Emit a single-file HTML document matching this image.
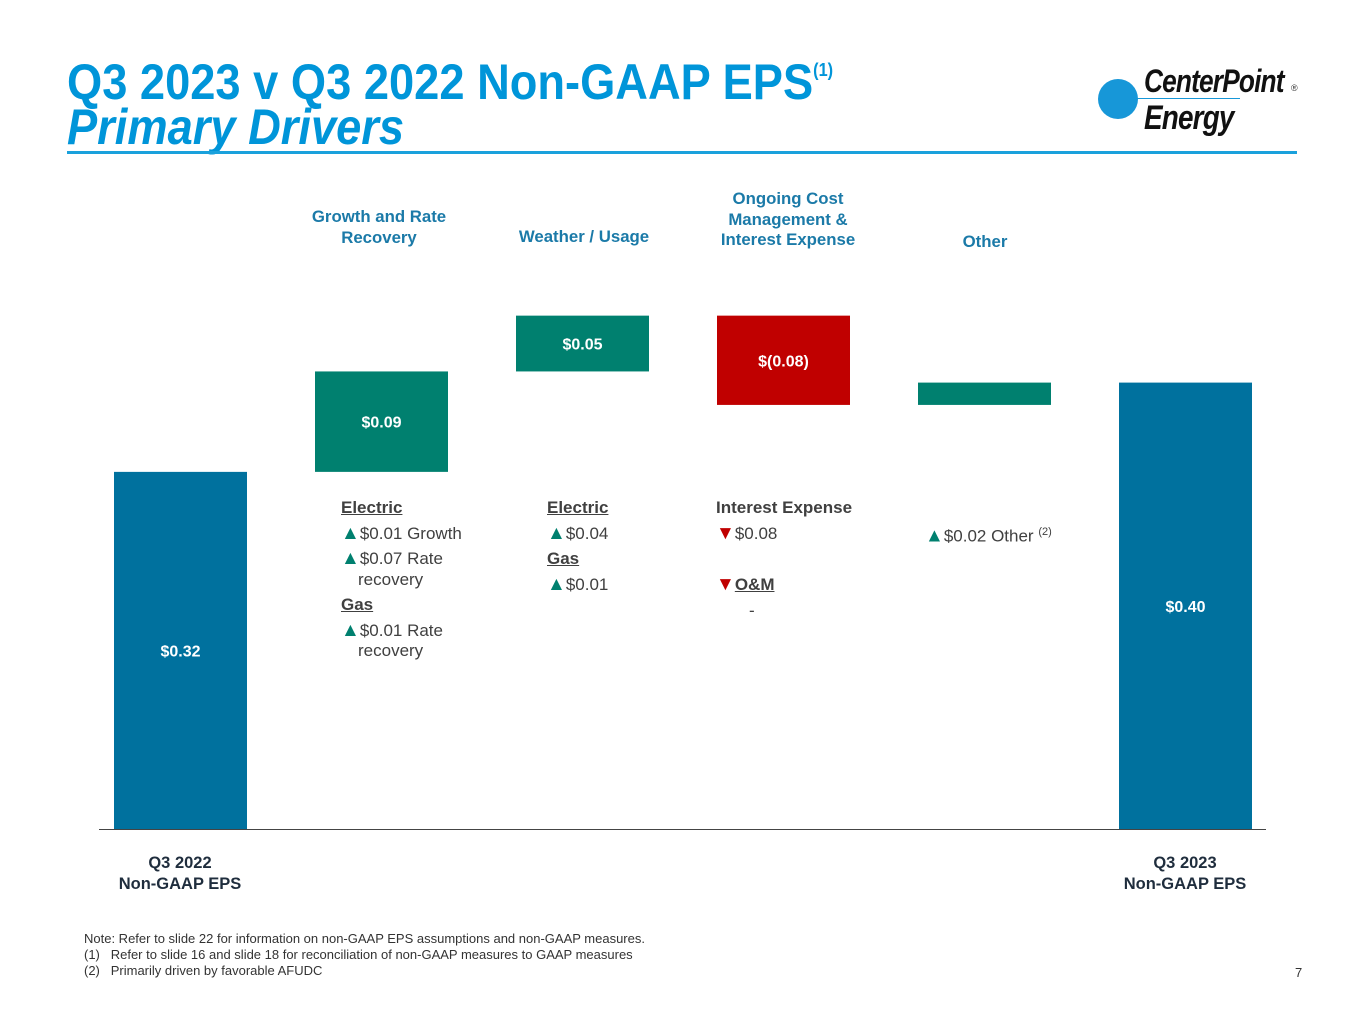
<!DOCTYPE html>
<html><head><meta charset="utf-8"><style>
body{margin:0;width:1365px;height:1024px;background:#fff;position:relative;overflow:hidden;font-family:"Liberation Sans",Arial,sans-serif;}
.abs{position:absolute;}
.t{color:#0095d9;font-weight:bold;font-size:50px;white-space:nowrap;transform:scaleX(0.905);transform-origin:left top;line-height:1;}
.hdr{color:#1b7aa8;font-weight:bold;font-size:16.8px;text-align:center;line-height:20.5px;width:220px;}
.ann{font-size:17px;color:#404040;line-height:20.5px;}
.ann u{font-weight:bold;}
.up{color:#00806f;font-size:19px;}
.dn{color:#c00000;font-size:19px;}
.xl{color:#1f2d3d;font-weight:bold;font-size:16.5px;text-align:center;line-height:21px;width:200px;}
</style></head><body>
<div class="abs t" style="left:67px;top:57px;">Q3 2023 v Q3 2022 Non-GAAP EPS<sup style="font-size:18px;vertical-align:top;position:relative;top:4px;">(1)</sup></div>
<div class="abs t" style="left:67px;top:102px;font-style:italic;">Primary Drivers</div>
<div class="abs" style="left:67px;top:151px;width:1230px;height:3px;background:#1aa1dc;"></div>
<div class="abs" style="left:1098px;top:65px;width:210px;height:75px;">
 <div class="abs" style="left:0;top:14px;width:40px;height:40px;border-radius:50%;background:#1797d8;"></div>
 <div class="abs" style="left:20px;top:33px;width:122px;height:1px;background:#1797d8;"></div>
 <div class="abs" style="left:46px;top:-2px;font-size:32px;font-weight:bold;font-style:italic;color:#111;transform:scaleX(0.82);transform-origin:left top;white-space:nowrap;letter-spacing:-1px;">CenterPoint</div>
 <div class="abs" style="left:46px;top:34px;font-size:34px;font-weight:bold;font-style:italic;color:#111;transform:scaleX(0.82);transform-origin:left top;white-space:nowrap;letter-spacing:-1px;">Energy</div>
 <div class="abs" style="left:193px;top:18px;font-size:9px;color:#333;">®</div>
</div>

<div class="abs hdr" style="left:269px;top:207px;">Growth and Rate<br>Recovery</div>
<div class="abs hdr" style="left:474px;top:227px;">Weather / Usage</div>
<div class="abs hdr" style="left:678px;top:189px;">Ongoing Cost<br>Management &amp;<br>Interest Expense</div>
<div class="abs hdr" style="left:875px;top:232px;">Other</div>

<svg class="abs" style="left:0;top:0;" width="1365" height="1024" id="chart"></svg>

<div class="abs ann" style="left:341px;top:498px;">
<div><u>Electric</u></div>
<div style="margin-top:5px"><span class="up">▲</span>$0.01 Growth</div>
<div style="margin-top:5px"><span class="up">▲</span>$0.07 Rate<br><span style="padding-left:17px">recovery</span></div>
<div style="margin-top:5px"><u>Gas</u></div>
<div style="margin-top:5px"><span class="up">▲</span>$0.01 Rate<br><span style="padding-left:17px">recovery</span></div>
</div>
<div class="abs ann" style="left:547px;top:498px;">
<div><u>Electric</u></div>
<div style="margin-top:5px"><span class="up">▲</span>$0.04</div>
<div style="margin-top:5px"><u>Gas</u></div>
<div style="margin-top:5px"><span class="up">▲</span>$0.01</div>
</div>
<div class="abs ann" style="left:716px;top:498px;">
<div><b>Interest Expense</b></div>
<div style="margin-top:5px"><span class="dn">▼</span>$0.08</div>
<div style="margin-top:31px"><span class="dn">▼</span><u>O&amp;M</u></div>
<div style="margin-top:5px;padding-left:33px">-</div>
</div>
<div class="abs ann" style="left:925px;top:522px;"><span class="up">▲</span>$0.02 Other <sup style="font-size:11px">(2)</sup></div>

<div class="abs xl" style="left:80px;top:853px;">Q3 2022<br>Non-GAAP EPS</div>
<div class="abs xl" style="left:1085px;top:853px;">Q3 2023<br>Non-GAAP EPS</div>

<div class="abs" style="left:84px;top:931px;font-size:13px;color:#333;line-height:16px;">
Note: Refer to slide 22 for information on non-GAAP EPS assumptions and non-GAAP measures.<br>
(1)&nbsp;&nbsp;&nbsp;Refer to slide 16 and slide 18 for reconciliation of non-GAAP measures to GAAP measures<br>
(2)&nbsp;&nbsp;&nbsp;Primarily driven by favorable AFUDC</div>
<div class="abs" style="left:1295px;top:965px;font-size:13px;color:#333;">7</div>

<script>
const categories = ["Q3 2022", "Growth and Rate Recovery", "Weather / Usage", "Cost & Interest", "Other", "Q3 2023"];
const deltas = [0.32, 0.09, 0.05, -0.08, 0.02, 0.40];
const kinds = ["total", "delta", "delta", "delta", "delta", "total"];
const valueLabels = ["$0.32", "$0.09", "$0.05", "$(0.08)", "", "$0.40"];

const svg = document.getElementById('chart');
const NS = 'http://www.w3.org/2000/svg';
const baseY = 829, pxPerUnit = 1116;
function y(v){ return baseY - v * pxPerUnit; }
function x(i){ return 114 + i * 201; }
const bw = 133;

const axis = document.createElementNS(NS, 'line');
axis.setAttribute('x1', 99); axis.setAttribute('x2', 1266);
axis.setAttribute('y1', baseY + 0.5); axis.setAttribute('y2', baseY + 0.5);
axis.setAttribute('stroke', '#444'); axis.setAttribute('stroke-width', 1);


svg.appendChild(axis);

let running = 0;
categories.forEach((c, i) => {
  let lo, hi, color;
  if (kinds[i] === 'total') { lo = 0; hi = deltas[i]; running = deltas[i]; color = '#00719e'; }
  else { const s = running; running += deltas[i]; lo = Math.min(s, running); hi = Math.max(s, running); color = deltas[i] < 0 ? '#c00000' : '#00806f'; }
  const r = document.createElementNS(NS, 'rect');
  r.setAttribute('x', x(i)); r.setAttribute('width', bw);
  r.setAttribute('y', y(hi)); r.setAttribute('height', y(lo) - y(hi));
  r.setAttribute('fill', color);
  
  
  svg.appendChild(r);
  if (valueLabels[i]) {
    const t = document.createElementNS(NS, 'text');
    t.setAttribute('x', x(i) + bw / 2); t.setAttribute('y', (y(hi) + y(lo)) / 2 + 6);
    t.setAttribute('text-anchor', 'middle'); t.setAttribute('fill', '#fff');
    t.setAttribute('font-family', 'Liberation Sans, sans-serif'); t.setAttribute('font-weight', 'bold'); t.setAttribute('font-size', '16');
    t.textContent = valueLabels[i];
    
    
    svg.appendChild(t);
  }
});
</script>
</body></html>
